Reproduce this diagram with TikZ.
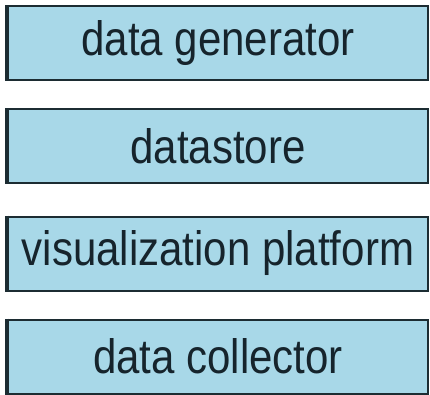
\documentclass[tikz,border=0pt]{standalone}
\usepackage{fontspec}
\setmainfont{Liberation Sans}
\usepackage{graphicx}
\definecolor{boxfill}{RGB}{168,216,232}
\definecolor{boxedge}{RGB}{28,44,50}
\definecolor{boxtext}{RGB}{22,36,44}
\begin{document}
\begin{tikzpicture}[x=1pt,y=1pt,
  layer/.style={draw=boxedge, fill=boxfill, line width=2pt,
    minimum width=420pt, minimum height=74pt, inner sep=0pt,
    text=boxtext, font=\fontsize{42}{48}\selectfont},
  leftedge/.style={draw=boxedge, line width=4pt}]
\useasboundingbox (0,0) rectangle (430,-394);
\fill[white] (0,0) rectangle (430,-394);
\node[layer] (gen) at (218,-43) {\scalebox{1}[1.15]{data generator}};
\node[layer] (store) at (218,-146) {\scalebox{1}[1.15]{datastore}};
\node[layer] (vis) at (218,-253.5) {\scalebox{1}[1.15]{visualization platform}};
\node[layer] (coll) at (218,-356.5) {\scalebox{1}[1.15]{data collector}};
\foreach \n in {gen,store,vis,coll}
  \draw[leftedge] (\n.north west) -- (\n.south west);
\end{tikzpicture}
\end{document}
